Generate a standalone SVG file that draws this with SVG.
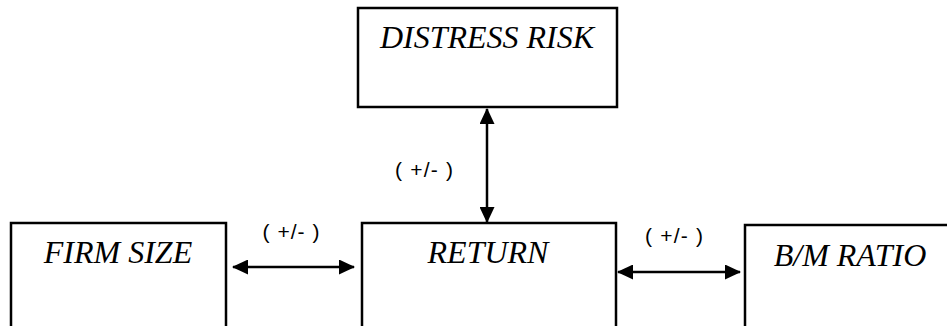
<svg xmlns="http://www.w3.org/2000/svg" width="947" height="326" viewBox="0 0 947 326">
  <style>
    .box { fill: #ffffff; stroke: #000000; stroke-width: 2.5; }
    .title { font-family: "Liberation Serif", "Times New Roman", serif; font-style: italic; font-size: 32px; fill: #000000; text-anchor: middle; }
    .sign { font-family: "Liberation Sans", Arial, sans-serif; font-size: 21px; fill: #000000; text-anchor: middle; }
    .link { stroke: #000000; stroke-width: 2.5; fill: none; }
  </style>
  <defs>
    <marker id="head" viewBox="0 0 16 15" refX="15" refY="7.5" markerWidth="16" markerHeight="15" markerUnits="userSpaceOnUse" orient="auto-start-reverse">
      <path d="M0,0 L16,7.5 L0,15 Z" fill="#000000"/>
    </marker>
  </defs>
  <rect width="947" height="326" fill="#ffffff"/>

  <g id="distress-risk">
    <rect class="box" x="358" y="8" width="259" height="99"/>
    <text class="title" x="487" y="48">DISTRESS RISK</text>
  </g>

  <g id="firm-size">
    <rect class="box" x="11" y="223" width="215" height="110"/>
    <text class="title" x="118" y="263">FIRM SIZE</text>
  </g>

  <g id="return">
    <rect class="box" x="362" y="223" width="254" height="110"/>
    <text class="title" x="488" y="263">RETURN</text>
  </g>

  <g id="bm-ratio">
    <rect class="box" x="745" y="225" width="220" height="110"/>
    <text class="title" x="850" y="266">B/M RATIO</text>
  </g>

  <g id="connectors">
    <line class="link" x1="487" y1="109" x2="487" y2="222" marker-start="url(#head)" marker-end="url(#head)"/>
    <line class="link" x1="233" y1="267" x2="354" y2="267" marker-start="url(#head)" marker-end="url(#head)"/>
    <line class="link" x1="618" y1="272" x2="740" y2="272" marker-start="url(#head)" marker-end="url(#head)"/>
    <text class="sign" x="424" y="177" textLength="58" lengthAdjust="spacing">( +/- )</text>
    <text class="sign" x="291" y="239" textLength="57" lengthAdjust="spacing">( +/- )</text>
    <text class="sign" x="674" y="243" textLength="58" lengthAdjust="spacing">( +/- )</text>
  </g>
</svg>
